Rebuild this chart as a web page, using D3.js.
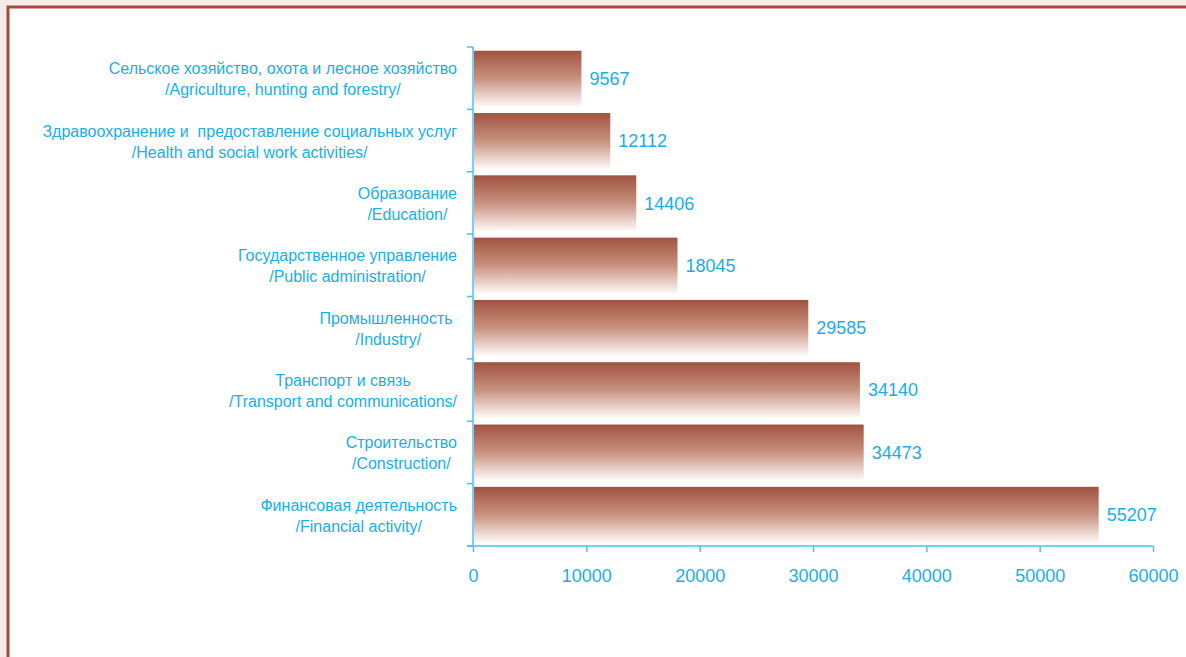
<!DOCTYPE html>
<html>
<head>
<meta charset="utf-8">
<script src="https://cdn.jsdelivr.net/npm/d3@7"></script>
<style>
    body { margin: 0; background: #f5ebe9; }
    svg { display: block; }
    text { font-family: "Liberation Sans", Arial, sans-serif; fill: #1aaee6; white-space: pre; }
</style>
</head>
<body>
<svg id="chart" width="1186" height="657"></svg>
<script>
// Categories (top to bottom), two lines each: Russian / English
var labelsRu = [
    "Сельское хозяйство, охота и лесное хозяйство",
    "Здравоохранение и  предоставление социальных услуг",
    "Образование",
    "Государственное управление",
    "Промышленность ",
    "Транспорт и связь",
    "Строительство",
    "Финансовая деятельность"
];
var labelsEn = [
    "/Agriculture, hunting and forestry/",
    "/Health and social work activities/",
    "/Education/",
    "/Public administration/",
    "/Industry/",
    "/Transport and communications/",
    "/Construction/",
    "/Financial activity/"
];
var values = [9567, 12112, 14406, 18045, 29585, 34140, 34473, 55207];
var xTicks = [0, 10000, 20000, 30000, 40000, 50000, 60000];

var svg = d3.select("#chart");

// page frame
svg.append("rect")
    .attr("x", 8).attr("y", 7)
    .attr("width", 1200).attr("height", 700)
    .attr("fill", "#ffffff")
    .attr("stroke", "#a54b3d")
    .attr("stroke-width", 3);

var x = d3.scaleLinear().domain([0, 60000]).range([473, 1153]);
var y = d3.scaleBand().domain(d3.range(values.length)).range([47, 546]).paddingInner(0.11).paddingOuter(0.06);

// vertical gradient for bars
var grad = svg.append("defs").append("linearGradient")
    .attr("id", "barGrad")
    .attr("x1", "0%").attr("y1", "0%")
    .attr("x2", "0%").attr("y2", "100%");
grad.append("stop").attr("offset", "0%").attr("stop-color", "#a0533f");
grad.append("stop").attr("offset", "50%").attr("stop-color", "#c8917f");
grad.append("stop").attr("offset", "100%").attr("stop-color", "#fdf8f7");

svg.selectAll(".bar").data(values).enter()
    .append("rect").attr("class", "bar")
    .attr("x", x(0) + 1)
    .attr("y", function(d, i){ return y(i); })
    .attr("width", function(d){ return x(d) - x(0) - 1; })
    .attr("height", y.bandwidth())
    .attr("fill", "url(#barGrad)");

// value labels
svg.selectAll(".val").data(values).enter()
    .append("text").attr("class", "val")
    .attr("x", function(d){ return x(d) + 8; })
    .attr("y", function(d, i){ return y(i) + y.bandwidth() / 2; })
    .attr("dy", "0.36em")
    .style("font-size", "18px")
    .text(function(d){ return d; });

// y axis: line plus ticks at category boundaries
var step = (546 - 47) / values.length;
var axisColor = "#4dc0ee";
svg.append("line")
    .attr("x1", 473).attr("x2", 473)
    .attr("y1", 47).attr("y2", 546)
    .attr("stroke", axisColor).attr("stroke-width", 1.5);
svg.selectAll(".ytick").data(d3.range(values.length + 1)).enter()
    .append("line").attr("class", "ytick")
    .attr("x1", 467).attr("x2", 473)
    .attr("y1", function(d){ return 47 + d * step; })
    .attr("y2", function(d){ return 47 + d * step; })
    .attr("stroke", axisColor).attr("stroke-width", 1.5);

// x axis
var xAxis = svg.append("g")
    .attr("transform", "translate(0,546)")
    .call(d3.axisBottom(x).tickValues(xTicks).tickFormat(d3.format("d"))
        .tickSize(6).tickSizeOuter(0).tickPadding(17));
xAxis.attr("font-family", null);
xAxis.select(".domain").attr("stroke", axisColor).attr("stroke-width", 1.5)
    .attr("d", "M467,0H1153");
xAxis.selectAll(".tick line").attr("stroke", axisColor).attr("stroke-width", 1.5);
xAxis.selectAll(".tick text")
    .attr("fill", null)
    .style("font-size", "18px");

// category labels, two centred lines, block right-aligned to the axis
var blockRight = 457;
labelsRu.forEach(function(ru, i){
    var cy = y(i) + y.bandwidth() / 2;
    var g = svg.append("g").attr("class", "cat");
    var t1 = g.append("text").attr("y", cy - 4).style("font-size", "16px").text(ru);
    var t2 = g.append("text").attr("y", cy + 17).style("font-size", "16px").text(labelsEn[i]);
    var w = Math.max(t1.node().getComputedTextLength(), t2.node().getComputedTextLength());
    var cx = blockRight - w / 2;
    t1.attr("x", cx).attr("text-anchor", "middle");
    t2.attr("x", cx).attr("text-anchor", "middle");
});
</script>
</body>
</html>
